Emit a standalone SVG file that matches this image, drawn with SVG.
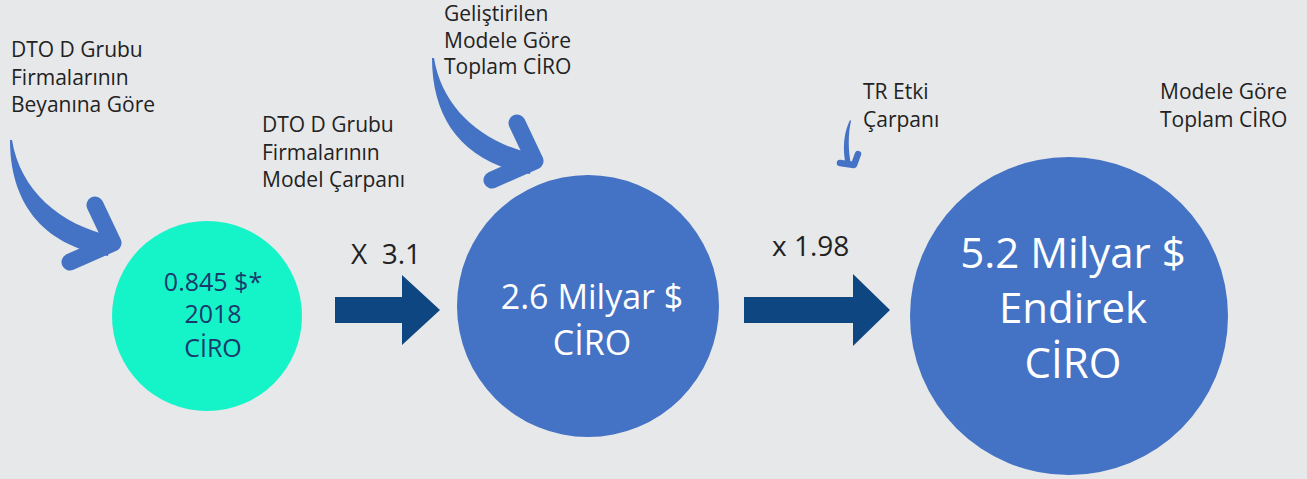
<svg xmlns="http://www.w3.org/2000/svg" xmlns:xlink="http://www.w3.org/1999/xlink" width="1307" height="479" viewBox="0 0 1307 479">
<style>
.lbl{font-family:"Open Sans","Noto Sans","Liberation Sans",sans-serif;font-size:21px;fill:#222222}
.mul{font-family:"Open Sans","Noto Sans","Liberation Sans",sans-serif;font-size:28px;fill:#222222}
.c1t{font-family:"Open Sans","Noto Sans","Liberation Sans",sans-serif;font-size:25px;fill:#1B3A6B;text-anchor:middle}
.cbt{font-family:"Open Sans","Noto Sans","Liberation Sans",sans-serif;fill:#FFFFFF;text-anchor:middle}
.curve{fill:#4472C4}
.chev{fill:none;stroke:#4472C4;stroke-linecap:round;stroke-linejoin:round}
.block{fill:#0D4680}
</style>
<defs>
<g id="bigCurve">
<path class="curve" d="M10,140 C10,200 40,245 108,256 L112,236 C60,225 20,190 12,140 Z"/>
<polyline class="chev" stroke-width="17" points="95,205 113,243 70,262"/>
</g>
</defs>
<rect x="0" y="0" width="1307" height="479" fill="#E7E8EA"/>

<g id="node-2018">
<circle cx="207" cy="316" r="95" fill="#15F4C8"/>
<text class="c1t" x="213" y="291">0.845 $*</text>
<text class="c1t" x="213" y="323">2018</text>
<text class="c1t" x="213" y="357">CİRO</text>
</g>

<g id="node-26">
<circle cx="588" cy="306" r="131" fill="#4472C4"/>
<text class="cbt" x="592" y="309" font-size="34">2.6 Milyar $</text>
<text class="cbt" x="592" y="355" font-size="34">CİRO</text>
</g>

<g id="node-52">
<circle cx="1069" cy="316" r="159" fill="#4472C4"/>
<text class="cbt" x="1073" y="268" font-size="42">5.2 Milyar $</text>
<text class="cbt" x="1073" y="323" font-size="42">Endirek</text>
<text class="cbt" x="1073" y="378" font-size="42">CİRO</text>
</g>

<g id="label-beyan">
<text class="lbl" x="11" y="57">DTO D Grubu</text>
<text class="lbl" x="11" y="85">Firmalarının</text>
<text class="lbl" x="11" y="112">Beyanına Göre</text>
</g>
<g id="label-carpan">
<text class="lbl" x="262" y="132">DTO D Grubu</text>
<text class="lbl" x="262" y="160">Firmalarının</text>
<text class="lbl" x="262" y="187">Model Çarpanı</text>
</g>
<g id="label-gelistirilen">
<text class="lbl" x="444" y="21">Geliştirilen</text>
<text class="lbl" x="444" y="48">Modele Göre</text>
<text class="lbl" x="444" y="74">Toplam CİRO</text>
</g>
<g id="label-tr">
<text class="lbl" x="863" y="99">TR Etki</text>
<text class="lbl" x="863" y="127">Çarpanı</text>
</g>
<g id="label-model">
<text class="lbl" x="1160" y="99">Modele Göre</text>
<text class="lbl" x="1160" y="127">Toplam CİRO</text>
</g>

<g id="connectors">
<use xlink:href="#bigCurve"/>
<use xlink:href="#bigCurve" transform="translate(422,-82)"/>
<path class="curve" d="M850,120 C844,132 842,148 846,166 L851,165 C848,150 848,134 851,121 Z"/>
<polyline class="chev" stroke-width="6.5" points="858,154 854,165 840,163"/>
<path class="block" d="M335,297 H402 V275 L440,310 L402,345 V323 H335 Z"/>
<path class="block" d="M744,297 H853 V274 L890,310 L853,346 V323 H744 Z"/>
<text class="mul" x="351" y="264" xml:space="preserve">X  3.1</text>
<text class="mul" x="772" y="256">x 1.98</text>
</g>
</svg>
